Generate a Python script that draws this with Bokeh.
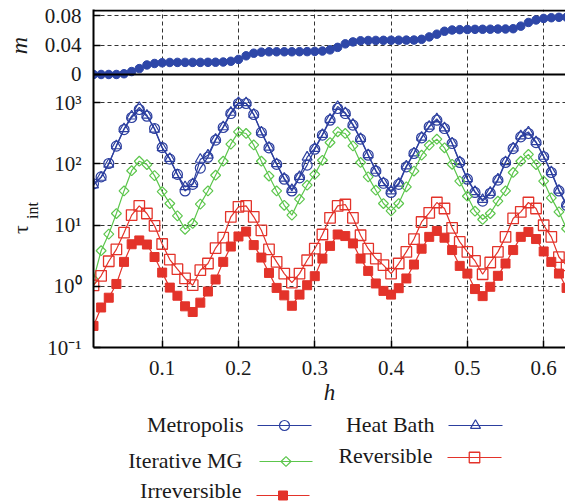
import numpy as np
from bokeh.plotting import figure
from bokeh.layouts import column, row
from bokeh.models import (Range1d, FixedTicker, ColumnDataSource, Span,
                          LinearScale, LogAxis)
from bokeh.embed import file_html
from bokeh.resources import INLINE
from bokeh.core.properties import value

# ---------------- data ----------------
h = [0.01, 0.02, 0.03, 0.04, 0.05, 0.06, 0.07, 0.08, 0.09, 0.10,
     0.11, 0.12, 0.13, 0.14, 0.15, 0.16, 0.17, 0.18, 0.19, 0.20,
     0.21, 0.22, 0.23, 0.24, 0.25, 0.26, 0.27, 0.28, 0.29, 0.30,
     0.31, 0.32, 0.33, 0.34, 0.35, 0.36, 0.37, 0.38, 0.39, 0.40,
     0.41, 0.42, 0.43, 0.44, 0.45, 0.46, 0.47, 0.48, 0.49, 0.50,
     0.51, 0.52, 0.53, 0.54, 0.55, 0.56, 0.57, 0.58, 0.59, 0.60,
     0.61, 0.62, 0.63]

m = [0.0, 0.0, 0.0, 0.0, 0.001, 0.004, 0.008, 0.013, 0.015, 0.016,
     0.0164, 0.0165, 0.0165, 0.0165, 0.0165, 0.0166, 0.0167, 0.017, 0.018, 0.0205,
     0.0255, 0.029, 0.0305, 0.031, 0.031, 0.031, 0.031, 0.0311, 0.0312, 0.0315,
     0.032, 0.0336, 0.037, 0.0418, 0.0445, 0.046, 0.0464, 0.0465, 0.0466, 0.0467,
     0.0468, 0.0469, 0.047, 0.048, 0.0513, 0.055, 0.059, 0.0607, 0.0612, 0.0614,
     0.0616, 0.0617, 0.0618, 0.062, 0.0621, 0.0625, 0.066, 0.071, 0.0744, 0.0765,
     0.0775, 0.078, 0.0782]

metropolis = [47, 61, 101, 194, 362, 569, 769, 598, 376, 184,
              119, 67, 36, 46, 85, 128, 243, 391, 661, 964,
              964, 637, 324, 182, 98, 56, 36, 59, 95, 173,
              293, 514, 798, 661, 427, 252, 138, 76, 48, 34,
              46, 89, 147, 265, 401, 514, 376, 214, 105, 56,
              34, 24.5, 33, 54, 105, 177, 275, 312, 222, 130,
              72, 36, 21]

heat_bath = [45, 60, 98, 196, 372, 600, 830, 620, 365, 182,
             122, 66, 42, 47, 118, 138, 250, 400, 690, 1000,
             990, 640, 330, 186, 100, 58, 38, 62, 128, 178,
             300, 530, 860, 680, 440, 258, 140, 78, 49, 36,
             48, 92, 150, 270, 410, 540, 385, 218, 108, 57,
             35, 26, 34, 56, 108, 180, 285, 330, 228, 132,
             74, 37, 22]

iterative_mg = [1.29, 3.8, 7.1, 15.4, 36, 77, 110, 97, 64, 35,
                22.4, 14.1, 8.5, 10.6, 21.9, 36, 65, 110, 209, 332,
                312, 203, 110, 63, 36, 21, 14.5, 26.4, 44.7, 67,
                114, 222, 332, 312, 196, 105, 61, 37, 22.4, 17,
                22.4, 42, 76, 138, 201, 252, 182, 98, 52, 29.5,
                16.8, 12.3, 15.4, 24.5, 36, 72, 110, 142, 97, 52,
                27.7, 16.4, 8.7]

reversible = [1.03, 1.48, 2.56, 4.0, 7.5, 14.5, 20.5, 15.4, 9.7, 4.9,
              2.73, 1.9, 1.34, 1.04, 1.83, 2.35, 4.2, 6.2, 13.6, 19.8,
              20.5, 13.6, 8.2, 4.0, 2.5, 1.61, 1.15, 1.61, 2.66, 4.1,
              7.0, 13.1, 20.5, 21.6, 13.1, 6.8, 4.1, 2.83, 2.21, 1.61,
              2.35, 3.64, 5.9, 11.2, 15.8, 23.3, 18.6, 9.0, 5.3, 3.64,
              2.59, 1.57, 2.44, 3.64, 6.4, 12.8, 16.4, 23.3, 18.6, 9.9,
              6.4, 3.0, 2.2]

irreversible = [0.225, 0.45, 0.65, 1.09, 2.5, 4.85, 5.6, 4.8, 3.0, 1.67,
                0.95, 0.70, 0.47, 0.38, 0.54, 0.82, 1.29, 2.5, 4.45, 6.5,
                7.8, 4.7, 2.94, 1.65, 0.94, 0.71, 0.48, 0.73, 1.04, 1.46,
                2.83, 4.56, 7.0, 6.6, 5.0, 2.83, 1.78, 1.11, 0.84, 0.73,
                0.93, 1.34, 2.26, 4.1, 6.4, 8.0, 6.2, 3.9, 2.15, 1.61,
                0.90, 0.69, 0.98, 1.48, 2.35, 3.9, 6.4, 7.7, 5.9, 3.7,
                2.5, 1.61, 0.94]

x_ticks = [0.1, 0.2, 0.3, 0.4, 0.5, 0.6]
x_tick_labels = ["0.1", "0.2", "0.3", "0.4", "0.5", "0.6"]
m_ticks = [0.0, 0.04, 0.08]
m_tick_labels = ["0", "0.04", "0.08"]
tau_ticks = [0.1, 1, 10, 100, 1000]
tau_tick_labels = ["10⁻¹", "10⁰", "10¹", "10²", "10³"]

legend_labels = ["Metropolis", "Heat Bath", "Iterative MG", "Reversible", "Irreversible"]

# ---------------- style / layout constants ----------------
FONT = "Liberation Serif"
BLUE = "#2c3f9f"
GREEN = "#5cc64c"
RED = "#e3332a"
TXT = "#1a1a1a"

HELP_W = 40                   # strip on the left holding the rotated axis titles
TOP, BOT = 9, 64              # borders above / below the frame
FRAME_H = 338
FIG_H = TOP + FRAME_H + BOT

X0, X1 = 0.01, 0.6286
# one frame holds both panels: tau (log) on the main range, m (linear) on an extra range
TAU0, TAU1 = 0.1, 10 ** 4.5184
M0, M1 = -0.3727, 0.0887

lt0, lt1 = np.log10(TAU0), np.log10(TAU1)
m_pos = [float(10 ** (lt0 + (v - M0) / (M1 - M0) * (lt1 - lt0))) for v in m_ticks]

p = figure(width=565 - HELP_W, height=FIG_H, x_range=Range1d(X0, X1),
           y_range=Range1d(TAU0, TAU1), y_axis_type="log",
           output_backend="svg", toolbar_location=None,
           min_border_left=93 - HELP_W, min_border_right=0, min_border_top=TOP,
           min_border_bottom=BOT, outline_line_color=None,
           background_fill_color="white", border_fill_color="white")
p.extra_y_ranges = {"m": Range1d(M0, M1)}
p.extra_y_scales = {"m": LinearScale()}


def style_axis(ax, size="21px"):
    ax.major_tick_in = 7
    ax.major_tick_out = 0
    ax.minor_tick_in = 0
    ax.minor_tick_out = 0
    ax.major_tick_line_width = 1.5
    ax.major_tick_line_color = "black"
    ax.axis_line_width = 2
    ax.axis_line_color = "black"
    ax.major_label_text_font = FONT
    ax.major_label_text_color = TXT
    ax.major_label_text_font_size = size


# bottom axis
p.xaxis.ticker = FixedTicker(ticks=x_ticks)
p.xaxis.major_label_overrides = {t: s for t, s in zip(x_ticks, x_tick_labels)}
style_axis(p.xaxis[0])
p.xaxis.major_label_standoff = 13
p.xaxis.axis_label = "h"
p.xaxis.axis_label_text_font = FONT
p.xaxis.axis_label_text_font_size = "23px"
p.xaxis.axis_label_text_font_style = "italic"
p.xaxis.axis_label_text_color = TXT
p.xaxis.axis_label_standoff = 2

# left axis: decades of tau plus the m ticks of the upper panel
p.yaxis.ticker = FixedTicker(ticks=tau_ticks + m_pos)
p.yaxis.major_label_overrides = {t: s for t, s in
                                 zip(tau_ticks + m_pos, tau_tick_labels + m_tick_labels)}
style_axis(p.yaxis[0])
p.yaxis.major_label_standoff = 12

# grids
p.xgrid.ticker = FixedTicker(ticks=x_ticks)
p.ygrid.ticker = FixedTicker(ticks=[1, 10, 100, 1000] + m_pos[1:])
for g in (p.xgrid[0], p.ygrid[0]):
    g.grid_line_color = "#333333"
    g.grid_line_dash = "4 3"
    g.grid_line_width = 1

# frame top line and divider between the panels
p.add_layout(Span(location=float(10 ** (lt1 - 1.0 / 61.25)), dimension="width",
                  line_color="black", line_width=2))
p.add_layout(Span(location=0.0, dimension="width", y_range_name="m",
                  line_color="black", line_width=2))

# upper panel: magnetisation
p.scatter(h, m, y_range_name="m", marker="circle", size=8.5,
          fill_color="#2e47a8", line_color="#2e47a8")

# lower panel: autocorrelation times
src = ColumnDataSource(dict(h=h, met=metropolis, hb=heat_bath, mg=iterative_mg,
                            rev=reversible, irr=irreversible))
p.line("h", "met", source=src, line_color=BLUE, line_width=1.2)
p.scatter("h", "met", source=src, marker="circle", size=10,
          fill_color=None, line_color=BLUE, line_width=1.2)
p.line("h", "hb", source=src, line_color=BLUE, line_width=1.2)
p.scatter("h", "hb", source=src, marker="triangle", size=10,
          fill_color=None, line_color=BLUE, line_width=1.2)
p.line("h", "mg", source=src, line_color=GREEN, line_width=1.2)
p.scatter("h", "mg", source=src, marker="square", angle=np.pi / 4, size=7,
          fill_color=None, line_color=GREEN, line_width=1.2)
p.line("h", "rev", source=src, line_color=RED, line_width=1.2)
p.scatter("h", "rev", source=src, marker="square", size=10.5,
          fill_color=None, line_color=RED, line_width=1.3)
p.line("h", "irr", source=src, line_color=RED, line_width=1.2)
p.scatter("h", "irr", source=src, marker="square", size=9,
          fill_color=RED, line_color=RED)

# ---------------- left strip: rotated axis titles ----------------
side = figure(width=HELP_W, height=FIG_H, x_range=Range1d(0, HELP_W),
              y_range=Range1d(TAU0, TAU1), y_axis_type="log",
              output_backend="svg", toolbar_location=None,
              x_axis_location=None, y_axis_location=None,
              min_border_left=0, min_border_right=0, min_border_top=TOP,
              min_border_bottom=BOT, outline_line_color=None,
              background_fill_color="white", border_fill_color="white")
side.extra_y_ranges = {"m": Range1d(M0, M1)}
side.extra_y_scales = {"m": LinearScale()}
side.grid.visible = False
side.text([18], [0.0396], text=["m"], y_range_name="m", angle=np.pi / 2,
          text_font=value(FONT), text_font_size="24px", text_font_style="italic",
          text_align="center", text_baseline="middle", text_color=TXT)
side.text([19.7], [8.44], text=["τ"], angle=np.pi / 2,
          text_font=value(FONT), text_font_size="22px",
          text_align="center", text_baseline="alphabetic", text_color=TXT)
side.text([32], [17.25], text=["int"], angle=np.pi / 2,
          text_font=value(FONT), text_font_size="16px",
          text_align="center", text_baseline="alphabetic", text_color=TXT)

# ---------------- legend panel ----------------
LEG_H = 503 - FIG_H
leg = figure(width=565, height=LEG_H, x_range=Range1d(93, 565),
             y_range=Range1d(503, FIG_H), output_backend="svg",
             toolbar_location=None, min_border_left=93, min_border_right=0,
             min_border_top=0, min_border_bottom=0, outline_line_color=None,
             x_axis_location=None, y_axis_location=None,
             background_fill_color="white", border_fill_color="white")
leg.grid.visible = False

lx_text = [243, 434, 242, 432, 241]
ly_text = [424, 424, 460, 455, 490]
lx0 = [257, 448, 259, 447, 256]
lx1 = [311, 502, 312, 501, 309]
ly_line = [425, 425, 461, 457, 495]
lcol = [BLUE, BLUE, GREEN, RED, RED]
leg.text(lx_text, ly_text, text=legend_labels, text_font=value(FONT),
         text_font_size="22px", text_align="right", text_baseline="middle",
         text_color=TXT)
leg.segment(lx0, ly_line, lx1, ly_line, line_color=lcol, line_width=1.2)
mx = [(a + b) / 2 for a, b in zip(lx0, lx1)]
leg.scatter(mx[0:1], ly_line[0:1], marker="circle", size=10, fill_color=None,
            line_color=BLUE, line_width=1.2)
leg.scatter(mx[1:2], ly_line[1:2], marker="triangle", size=10, fill_color=None,
            line_color=BLUE, line_width=1.2)
leg.scatter(mx[2:3], ly_line[2:3], marker="square", angle=np.pi / 4, size=7,
            fill_color=None, line_color=GREEN, line_width=1.2)
leg.scatter(mx[3:4], ly_line[3:4], marker="square", size=10.5, fill_color=None,
            line_color=RED, line_width=1.3)
leg.scatter(mx[4:5], ly_line[4:5], marker="square", size=9, fill_color=RED,
            line_color=RED)

layout = column(row(side, p, spacing=0), leg, spacing=0)
open("out.html", "w").write(file_html(layout, INLINE))
